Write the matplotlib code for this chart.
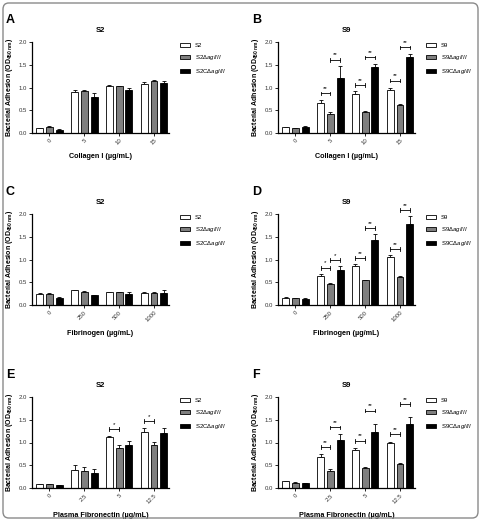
import matplotlib
matplotlib.use("Agg")
import matplotlib.pyplot as plt
from matplotlib.patches import FancyBboxPatch, Patch
import numpy as np

plt.rcParams['font.family'] = ['Liberation Sans', 'DejaVu Sans']
plt.rcParams['mathtext.fontset'] = 'custom'
plt.rcParams['mathtext.rm'] = 'Liberation Sans'
plt.rcParams['mathtext.it'] = 'Liberation Sans:italic'
plt.rcParams['mathtext.bf'] = 'Liberation Sans:bold'

# x categories
collagen_doses = ['0', '5', '10', '15']
fibrinogen_doses = ['0', '250', '500', '1000']
fibronectin_doses = ['0', '2.5', '5', '12.5']

# A: S2 collagen I
a_wt = [0.11, 0.91, 1.03, 1.07]
a_wt_err = [0.01, 0.04, 0.02, 0.06]
a_del = [0.13, 0.92, 1.03, 1.14]
a_del_err = [0.02, 0.02, 0.01, 0.02]
a_comp = [0.07, 0.80, 0.95, 1.09]
a_comp_err = [0.01, 0.08, 0.05, 0.05]

# B: S9 collagen I
b_wt = [0.13, 0.65, 0.86, 0.95]
b_wt_err = [0.01, 0.08, 0.07, 0.05]
b_del = [0.11, 0.42, 0.47, 0.61]
b_del_err = [0.01, 0.04, 0.02, 0.03]
b_comp = [0.14, 1.21, 1.44, 1.68]
b_comp_err = [0.01, 0.26, 0.08, 0.06]
b_sig = [(1, 0, 0.87, '**'), (1, 1, 1.61, '**'), (2, 0, 1.05, '**'), (2, 1, 1.66, '**'),
         (3, 0, 1.15, '**'), (3, 1, 1.88, '**')]

# C: S2 fibrinogen
c_wt = [0.25, 0.32, 0.28, 0.27]
c_wt_err = [0.01, 0.01, 0.01, 0.01]
c_del = [0.25, 0.28, 0.28, 0.27]
c_del_err = [0.02, 0.02, 0.01, 0.02]
c_comp = [0.16, 0.22, 0.24, 0.27]
c_comp_err = [0.01, 0.01, 0.04, 0.06]

# D: S9 fibrinogen
d_wt = [0.16, 0.63, 0.85, 1.05]
d_wt_err = [0.01, 0.05, 0.05, 0.04]
d_del = [0.15, 0.46, 0.54, 0.62]
d_del_err = [0.01, 0.03, 0.01, 0.02]
d_comp = [0.14, 0.77, 1.42, 1.78]
d_comp_err = [0.01, 0.09, 0.14, 0.18]
d_sig = [(1, 0, 0.82, '*'), (1, 1, 0.99, '*'), (2, 0, 1.03, '**'), (2, 1, 1.69, '**'),
         (3, 0, 1.23, '**'), (3, 1, 2.09, '**')]

# E: S2 plasma fibronectin
e_wt = [0.08, 0.40, 1.11, 1.24]
e_wt_err = [0.01, 0.11, 0.04, 0.07]
e_del = [0.08, 0.37, 0.89, 0.95]
e_del_err = [0.01, 0.09, 0.05, 0.07]
e_comp = [0.06, 0.32, 0.95, 1.21]
e_comp_err = [0.01, 0.09, 0.08, 0.10]
e_sig = [(2, 0, 1.29, '*'), (3, 0, 1.47, '*')]

# F: S9 plasma fibronectin
f_wt = [0.15, 0.68, 0.84, 0.98]
f_wt_err = [0.01, 0.07, 0.04, 0.03]
f_del = [0.12, 0.38, 0.45, 0.53]
f_del_err = [0.01, 0.04, 0.02, 0.01]
f_comp = [0.10, 1.05, 1.22, 1.41]
f_comp_err = [0.01, 0.13, 0.18, 0.14]
f_sig = [(1, 0, 0.90, '**'), (1, 1, 1.33, '**'), (2, 0, 1.04, '**'), (2, 1, 1.70, '**'),
         (3, 0, 1.18, '**'), (3, 1, 1.84, '**')]

W, H = 481, 521
fig = plt.figure(figsize=(W / 100, H / 100), dpi=100)
fig.patches.append(FancyBboxPatch((3 / W, 3 / H), 1 - 6 / W, 1 - 6 / H,
                                  boxstyle="round,pad=0,rounding_size=0.012",
                                  transform=fig.transFigure, fill=False,
                                  edgecolor='#8a8a8a', linewidth=1.0))

bw = 0.2
off = 0.28


def draw_panel(px, py, letter, strain, doses, wt, wt_err, dl, dl_err, cp, cp_err,
               xlabel, sig=()):
    # px, py: left / bottom of axes in pixels (from top for py)
    ax = fig.add_axes([px / W, 1 - (py + 91) / H, 137 / W, 91 / H])
    x = np.arange(len(doses))
    cols = ['white', '#7f7f7f', 'black']
    labels = [strain, strain + r'$\Delta\mathit{agI/II}$', strain + r'C$\Delta\mathit{agI/II}$']
    for k, (vals, errs) in enumerate([(wt, wt_err), (dl, dl_err), (cp, cp_err)]):
        xs = x + (k - 1) * off
        ax.bar(xs, vals, width=bw, color=cols[k], edgecolor='black', linewidth=0.6,
               label=labels[k], zorder=2)
        ax.errorbar(xs, vals, yerr=[np.zeros(len(vals)), errs], fmt='none',
                    ecolor='black', elinewidth=0.6, capsize=1.5, capthick=0.6, zorder=1)
    for g, pair, h, txt in sig:
        x1 = g - off + pair * off
        x2 = x1 + off
        ax.plot([x1, x2], [h, h], color='black', lw=0.6, clip_on=False)
        ax.plot([x1, x1], [h - 0.04, h + 0.04], color='black', lw=0.6, clip_on=False)
        ax.plot([x2, x2], [h - 0.04, h + 0.04], color='black', lw=0.6, clip_on=False)
        ax.text((x1 + x2) / 2, h + 0.05, txt, ha='center', va='bottom', fontsize=4.5,
                clip_on=False)
    ax.set_xlim(-0.5, 3.43)
    ax.set_ylim(0, 2.0)
    ax.set_yticks([0, 0.5, 1.0, 1.5, 2.0])
    ax.set_yticklabels(['0.0', '0.5', '1.0', '1.5', '2.0'])
    ax.set_xticks(x)
    ax.set_xticklabels(doses, rotation=45, ha='right', rotation_mode='anchor')
    ax.tick_params(labelsize=4.3, length=2, width=0.6, pad=1.5, colors='black',
                   labelcolor='#333333')
    for s in ['top', 'right']:
        ax.spines[s].set_visible(False)
    for s in ['left', 'bottom']:
        ax.spines[s].set_linewidth(0.9)
    ax.set_title(strain, fontsize=5.5, fontweight='bold', pad=7)
    ax.set_xlabel(xlabel, fontsize=5.2, fontweight='bold', labelpad=5)
    ax.set_ylabel(r'Bacterial Adhesion (OD$_{\mathbf{450\ nm}}$)', fontsize=5,
                  fontweight='bold', labelpad=3)
    ax.legend(loc='upper left', bbox_to_anchor=(1.06, 1.02), frameon=False,
              fontsize=4.3, handlelength=1.8, handleheight=0.7, labelspacing=0.9,
              handletextpad=0.8, borderaxespad=0)
    fig.text((px - 26) / W, 1 - (py - 22) / H, letter, fontsize=9, fontweight='bold',
             ha='left', va='center')
    return ax


draw_panel(32, 42, 'A', 'S2', collagen_doses, a_wt, a_wt_err, a_del, a_del_err,
           a_comp, a_comp_err, 'Collagen I (µg/mL)')
draw_panel(278, 42, 'B', 'S9', collagen_doses, b_wt, b_wt_err, b_del, b_del_err,
           b_comp, b_comp_err, 'Collagen I (µg/mL)', b_sig)
draw_panel(32, 214, 'C', 'S2', fibrinogen_doses, c_wt, c_wt_err, c_del, c_del_err,
           c_comp, c_comp_err, 'Fibrinogen (µg/mL)')
draw_panel(278, 214, 'D', 'S9', fibrinogen_doses, d_wt, d_wt_err, d_del, d_del_err,
           d_comp, d_comp_err, 'Fibrinogen (µg/mL)', d_sig)
draw_panel(32, 397, 'E', 'S2', fibronectin_doses, e_wt, e_wt_err, e_del, e_del_err,
           e_comp, e_comp_err, 'Plasma Fibronectin (µg/mL)', e_sig)
draw_panel(278, 397, 'F', 'S9', fibronectin_doses, f_wt, f_wt_err, f_del, f_del_err,
           f_comp, f_comp_err, 'Plasma Fibronectin (µg/mL)', f_sig)

fig.savefig('out.png', dpi=100)
